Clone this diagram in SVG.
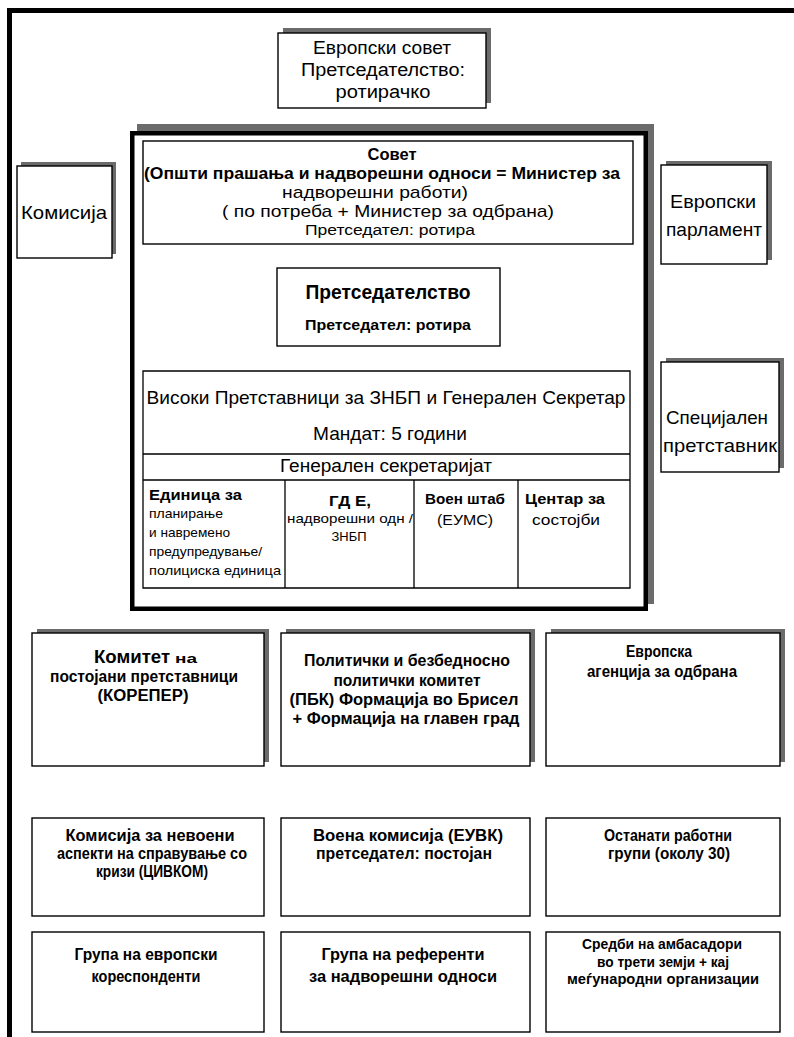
<svg xmlns="http://www.w3.org/2000/svg" width="794" height="1037" viewBox="0 0 794 1037">
<style>
text{font-family:"Liberation Sans","Open Sans",sans-serif;fill:#000;text-anchor:middle}
.b{font-weight:bold}
.box{fill:#fff;stroke:#000;stroke-width:1.4}
.sh{fill:#6b6b6b}
.ln{stroke:#000;stroke-width:1.3;fill:none}
.l{text-anchor:start}
</style>
<rect width="794" height="1037" fill="#fff"/>
<g id="frame">
<path d="M9.5,1037 V10.5 H794" fill="none" stroke="#000" stroke-width="5"/>
</g>
<g id="european-council">
<rect class="sh" x="283" y="28" width="208" height="75"/>
<rect class="box" x="278" y="33" width="208" height="75"/>
<text x="382" y="54" font-size="18" textLength="138" lengthAdjust="spacingAndGlyphs">Европски совет</text>
<text x="383" y="76" font-size="18" textLength="164" lengthAdjust="spacingAndGlyphs">Претседателство:</text>
<text x="383" y="98" font-size="18" textLength="95" lengthAdjust="spacingAndGlyphs">ротирачко</text>
</g>
<g id="commission">
<rect class="sh" x="21" y="162" width="95" height="92"/>
<rect class="box" x="17" y="166" width="95" height="92"/>
<text x="64" y="219" font-size="19" textLength="86" lengthAdjust="spacingAndGlyphs">Комисија</text>
</g>
<g id="parliament">
<rect class="sh" x="666" y="161" width="106" height="99"/>
<rect class="box" x="661" y="165" width="106" height="99"/>
<text x="713" y="208" font-size="19" textLength="86" lengthAdjust="spacingAndGlyphs">Европски</text>
<text x="714" y="236" font-size="19" textLength="96" lengthAdjust="spacingAndGlyphs">парламент</text>
</g>
<g id="special-representative">
<rect class="sh" x="666" y="358" width="118" height="110"/>
<rect class="box" x="661" y="362" width="118" height="110"/>
<text x="717" y="424" font-size="19" textLength="102" lengthAdjust="spacingAndGlyphs">Специјален</text>
<text x="720" y="452" font-size="19" textLength="114" lengthAdjust="spacingAndGlyphs">претставник</text>
</g>
<g id="council">
<rect class="sh" x="137" y="124" width="517" height="480"/>
<rect x="132.25" y="133.25" width="513.5" height="475.5" fill="#fff" stroke="#000" stroke-width="4.5"/>
<rect class="box" x="143" y="141" width="490" height="103"/>
<text class="b" x="392" y="160" font-size="17" textLength="49" lengthAdjust="spacingAndGlyphs">Совет</text>
<text class="b" x="382" y="179" font-size="16" textLength="476" lengthAdjust="spacingAndGlyphs">(Општи прашања и надворешни односи = Министер за</text>
<text x="375" y="198" font-size="17" textLength="186" lengthAdjust="spacingAndGlyphs">надворешни работи)</text>
<text x="388" y="217" font-size="17" textLength="332" lengthAdjust="spacingAndGlyphs">( по потреба + Министер за одбрана)</text>
<text x="390" y="235" font-size="14" textLength="170" lengthAdjust="spacingAndGlyphs">Претседател: ротира</text>
</g>
<g id="presidency">
<rect class="box" x="277" y="268" width="223" height="78"/>
<text class="b" x="388" y="299" font-size="21" textLength="165" lengthAdjust="spacingAndGlyphs">Претседателство</text>
<text class="b" x="388" y="330" font-size="15" textLength="166" lengthAdjust="spacingAndGlyphs">Претседател: ротира</text>
</g>
<g id="high-representative">
<path class="ln" d="M143,371 H630 V588 H143 Z M143,454 H630 M143,480 H630 M285,480 V588 M414,480 V588 M518,480 V588"/>
<text x="386" y="404" font-size="19" textLength="479" lengthAdjust="spacingAndGlyphs">Високи Претставници за ЗНБП и Генерален Секретар</text>
<text x="390" y="440" font-size="19" textLength="154" lengthAdjust="spacingAndGlyphs">Мандат: 5 години</text>
<text x="386" y="472" font-size="18" textLength="212" lengthAdjust="spacingAndGlyphs">Генерален секретаријат</text>
</g>
<g id="unit-planning">
<text class="b l" x="149" y="500" font-size="15" textLength="93" lengthAdjust="spacingAndGlyphs">Единица за</text>
<text class="l" x="149" y="518" font-size="13" textLength="74" lengthAdjust="spacingAndGlyphs">планирање</text>
<text class="l" x="149" y="537" font-size="13" textLength="81" lengthAdjust="spacingAndGlyphs">и навремено</text>
<text class="l" x="149" y="556" font-size="13" textLength="113" lengthAdjust="spacingAndGlyphs">предупредување/</text>
<text class="l" x="149" y="575" font-size="13" textLength="132" lengthAdjust="spacingAndGlyphs">полициска единица</text>
</g>
<g id="dg-e">
<text class="b" x="350" y="506" font-size="15" textLength="42" lengthAdjust="spacingAndGlyphs">ГД Е,</text>
<text x="350" y="523" font-size="13" textLength="126" lengthAdjust="spacingAndGlyphs">надворешни одн /</text>
<text x="349" y="541" font-size="13" textLength="35" lengthAdjust="spacingAndGlyphs">ЗНБП</text>
</g>
<g id="eums">
<text class="b" x="465" y="504" font-size="15" textLength="80" lengthAdjust="spacingAndGlyphs">Воен штаб</text>
<text x="465" y="525" font-size="15" textLength="56" lengthAdjust="spacingAndGlyphs">(ЕУМС)</text>
</g>
<g id="situation-centre">
<text class="b" x="565" y="504" font-size="15" textLength="80" lengthAdjust="spacingAndGlyphs">Центар за</text>
<text x="566" y="525" font-size="15" textLength="68" lengthAdjust="spacingAndGlyphs">состојби</text>
</g>
<g id="coreper">
<rect class="sh" x="37" y="629" width="232" height="133"/>
<rect class="box" x="32" y="633" width="232" height="133"/>
<text class="b l" x="94" y="663" font-size="19" textLength="76" lengthAdjust="spacingAndGlyphs">Комитет</text>
<text class="b l" x="175" y="663" font-size="13" textLength="22" lengthAdjust="spacingAndGlyphs">на</text>
<text class="b" x="144" y="682" font-size="16" textLength="188" lengthAdjust="spacingAndGlyphs">постојани претставници</text>
<text class="b" x="143" y="701" font-size="16" textLength="91" lengthAdjust="spacingAndGlyphs">(КОРЕПЕР)</text>
</g>
<g id="psc">
<rect class="sh" x="286" y="629" width="249" height="133"/>
<rect class="box" x="281" y="633" width="249" height="133"/>
<text class="b" x="407" y="666" font-size="16" textLength="206" lengthAdjust="spacingAndGlyphs">Политички и безбедносно</text>
<text class="b" x="407" y="686" font-size="16" textLength="147" lengthAdjust="spacingAndGlyphs">политички комитет</text>
<text class="b" x="404" y="705" font-size="16" textLength="229" lengthAdjust="spacingAndGlyphs">(ПБК) Формација во Брисел</text>
<text class="b" x="406" y="724" font-size="16" textLength="227" lengthAdjust="spacingAndGlyphs">+ Формација на главен град</text>
</g>
<g id="eda">
<rect class="sh" x="551" y="629" width="234" height="133"/>
<rect class="box" x="546" y="633" width="234" height="133"/>
<text class="b" x="659" y="657" font-size="16" textLength="66" lengthAdjust="spacingAndGlyphs">Европска</text>
<text class="b" x="662" y="677" font-size="16" textLength="150" lengthAdjust="spacingAndGlyphs">агенција за одбрана</text>
</g>
<g id="civcom">
<rect class="box" x="32" y="818" width="232" height="98"/>
<text class="b" x="150" y="841" font-size="16" textLength="169" lengthAdjust="spacingAndGlyphs">Комисија за невоени</text>
<text class="b" x="152" y="859" font-size="16" textLength="190" lengthAdjust="spacingAndGlyphs">аспекти на справување со</text>
<text class="b" x="152" y="877" font-size="16" textLength="112" lengthAdjust="spacingAndGlyphs">кризи (ЦИВКОМ)</text>
</g>
<g id="eumc">
<rect class="box" x="281" y="818" width="249" height="98"/>
<text class="b" x="408" y="841" font-size="16" textLength="190" lengthAdjust="spacingAndGlyphs">Воена комисија (ЕУВК)</text>
<text class="b" x="404" y="859" font-size="16" textLength="176" lengthAdjust="spacingAndGlyphs">претседател: постојан</text>
</g>
<g id="working-groups">
<rect class="box" x="546" y="818" width="234" height="98"/>
<text class="b" x="668" y="841" font-size="16" textLength="128" lengthAdjust="spacingAndGlyphs">Останати работни</text>
<text class="b" x="669" y="859" font-size="16" textLength="122" lengthAdjust="spacingAndGlyphs">групи (околу 30)</text>
</g>
<g id="correspondents">
<rect class="box" x="32" y="932" width="232" height="100"/>
<text class="b" x="146" y="960" font-size="16" textLength="143" lengthAdjust="spacingAndGlyphs">Група на европски</text>
<text class="b" x="146" y="982" font-size="16" textLength="109" lengthAdjust="spacingAndGlyphs">кореспонденти</text>
</g>
<g id="relex">
<rect class="box" x="281" y="932" width="249" height="100"/>
<text class="b" x="403" y="960" font-size="16" textLength="163" lengthAdjust="spacingAndGlyphs">Група на референти</text>
<text class="b" x="403" y="982" font-size="16" textLength="188" lengthAdjust="spacingAndGlyphs">за надворешни односи</text>
</g>
<g id="ambassadors">
<rect class="box" x="546" y="932" width="234" height="100"/>
<text class="b" x="662" y="949" font-size="15" textLength="160" lengthAdjust="spacingAndGlyphs">Средби на амбасадори</text>
<text class="b" x="663" y="966.5" font-size="15" textLength="132" lengthAdjust="spacingAndGlyphs">во трети земји + кај</text>
<text class="b" x="663" y="984" font-size="15" textLength="192" lengthAdjust="spacingAndGlyphs">меѓународни организации</text>
</g>
<g id="connectors"/>
</svg>
